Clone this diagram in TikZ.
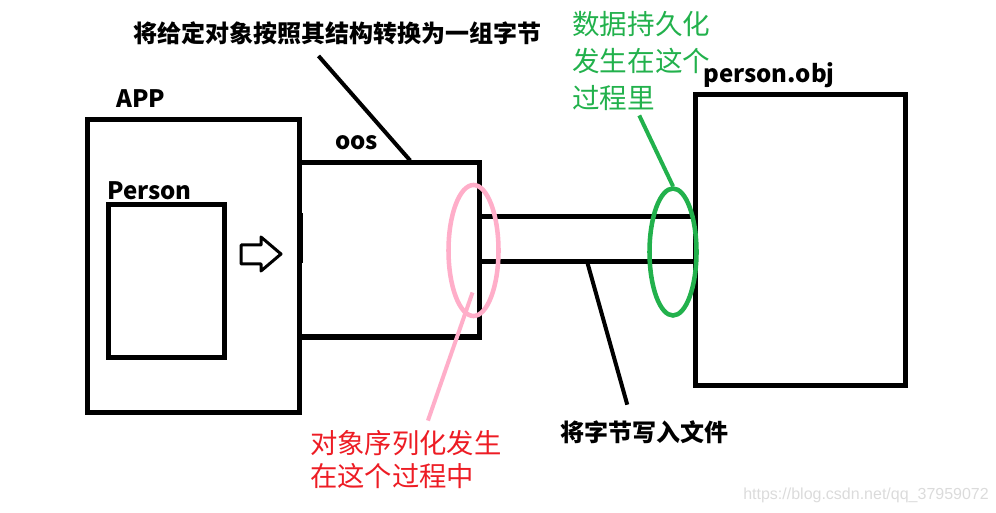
\documentclass[tikz,border=0pt]{standalone}
\usepackage{fontspec}
\newfontfamily\cjk{Noto Sans CJK SC}
\newfontfamily\webfont{Liberation Sans}
\usetikzlibrary{shapes.geometric, calc}
\definecolor{paintred}{RGB}{237,28,36}
\definecolor{paintgreen}{RGB}{34,177,76}
\definecolor{paintpink}{RGB}{255,174,201}

\begin{document}
\begin{tikzpicture}[x=0.75pt, y=-0.75pt, font=\cjk,
        size/.style 2 args={minimum width=#1*0.75pt, minimum height=#2*0.75pt},
        box/.style={draw, line width=3.75pt, inner sep=0pt},
        ring/.style={ellipse, draw, line width=3.4pt, inner sep=0pt},
        tag/.style={font=\cjk\bfseries\fontsize{18}{20}\selectfont, inner sep=0pt, anchor=base west},
        note/.style={inner sep=0pt, align=left, anchor=west},
        pointer/.style={line width=3pt}]
        \useasboundingbox (0,0) rectangle (996,513);

        % boxes
        \node[box, size={212}{293}] (app) at (193,266) {};
        \node[box, size={116}{152}] (person) at (166,281) {};
        \node[box, size={180}{174}] (oos) at (389.5,250) {};
        \node[box, size={210}{290}] (obj) at (800,240) {};
        \fill (297,213) rectangle (303,263);
        \node[inner sep=0pt, size={215}{44}] (pipe) at (587,239) {};
        \draw[line width=3.75pt] (oos.east |- pipe.north) -- (obj.west |- pipe.north);
        \draw[line width=3.75pt] (oos.east |- pipe.south) -- (obj.west |- pipe.south);
        \draw[line width=2.25pt, line join=round] (241,245) -- (261,245) -- (261,237) -- (281,254)
            -- (261,271) -- (261,264) -- (241,264) -- cycle;

        \node[tag] at (116,108) {APP};
        \node[tag] at (107,200) {Person};
        \node[tag] at (335,150) {oos};
        \node[tag] at (703,83) {person.obj};

        % where it happens
        \node[ring, paintpink, size={50}{131}] (ser) at (473.5,250.5) {};
        \node[ring, paintgreen, size={47}{127}] (per) at (673,252) {};

        \node[tag, anchor=center] (cap) at (337.5,33) {将给定对象按照其结构转换为一组字节};
        \node[tag, anchor=west] (wr) at (560,432.5) {将字节写入文件};
        \node[note, text=paintred, font=\cjk\fontsize{20.5}{24.75}\selectfont] (red) at (310,460)
            {对象序列化发生\\在这个过程中};
        \node[note, text=paintgreen, font=\cjk\fontsize{20.7}{27.75}\selectfont] (grn) at (572,60.5)
            {数据持久化\\发生在这个\\过程里};
        \node[anchor=west, inner sep=0pt, text=black!14, font=\webfont\fontsize{12}{14}\selectfont]
            (mark) at (743,495) {https://blog.csdn.net/qq\_37959072};

        \draw[pointer] ($(cap.south)+(-19,11)$) -- (oos.77);
        \draw[pointer] (pipe.south) -- ($(wr.north)+(-17,-16)$);
        \draw[pointer, paintpink] ($(ser.center)+(-1,42)$) -- ($(red.north)+(22,-10)$);
        \draw[pointer, paintgreen] ($(grn.south)+(-2,5)$) -- (per.north);
    \end{tikzpicture}
\end{document}
